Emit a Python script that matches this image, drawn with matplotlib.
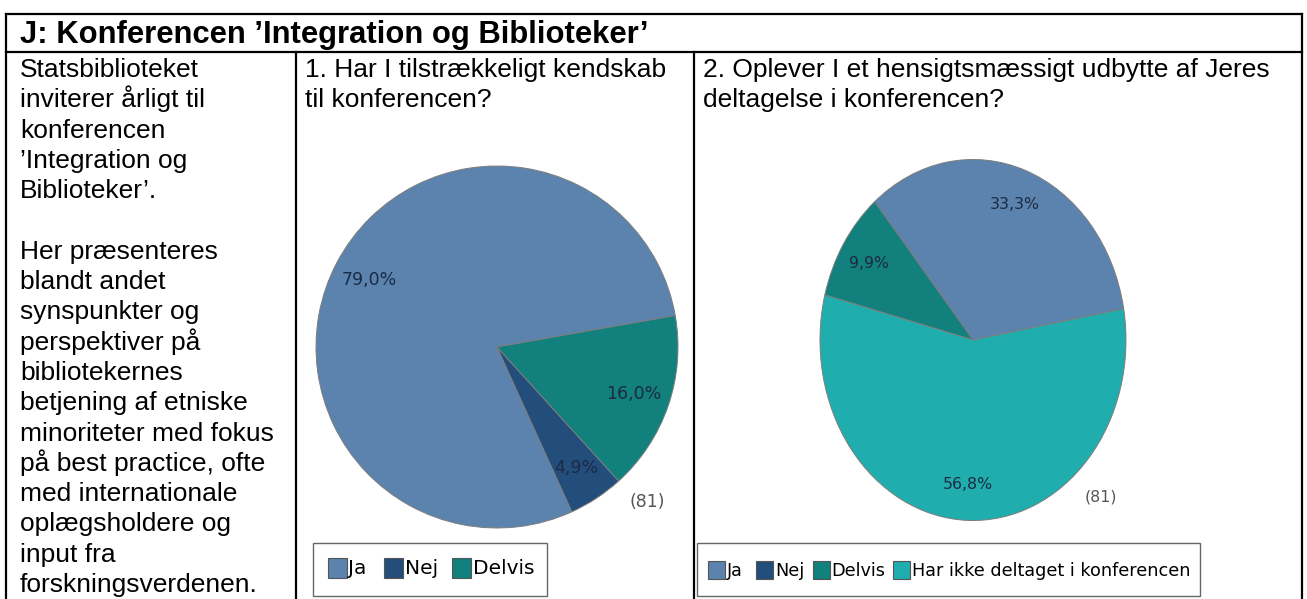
import matplotlib
matplotlib.use("Agg")
import matplotlib.pyplot as plt
from matplotlib.patches import Rectangle

# ---------------- data ----------------
title = "J: Konferencen \u2019Integration og Biblioteker\u2019"
intro_lines = ["Statsbiblioteket", "inviterer årligt til", "konferencen",
               "\u2019Integration og", "Biblioteker\u2019.", "",
               "Her præsenteres", "blandt andet", "synspunkter og",
               "perspektiver på", "bibliotekernes", "betjening af etniske",
               "minoriteter med fokus", "på best practice, ofte",
               "med internationale", "oplægsholdere og", "input fra",
               "forskningsverdenen."]
q1_lines = ["1. Har I tilstrækkeligt kendskab", "til konferencen?"]
q2_lines = ["2. Oplever I et hensigtsmæssigt udbytte af Jeres",
            "deltagelse i konferencen?"]

cats1 = ["Ja", "Nej", "Delvis"]
counts1 = [64, 4, 13]          # n = 81 -> 79,0% / 4,9% / 16,0%
cats2 = ["Ja", "Nej", "Delvis", "Har ikke deltaget i konferencen"]
counts2 = [27, 0, 8, 46]       # n = 81 -> 33,3% / 0% / 9,9% / 56,8%
n1 = 81
n2 = 81

colors = {"Ja": "#5b83ad", "Nej": "#234d7b", "Delvis": "#12807c",
          "Har ikke deltaget i konferencen": "#20adad"}

# ---------------- figure ----------------
W, H = 1307, 599
fig = plt.figure(figsize=(W / 100, H / 100), dpi=100)
fig.patch.set_facecolor("white")

ov = fig.add_axes([0, 0, 1, 1])
ov.set_xlim(0, W)
ov.set_ylim(H, 0)
ov.axis("off")

def px_axes(x0, y0, x1, y1):
    return fig.add_axes([x0 / W, 1 - y1 / H, (x1 - x0) / W, (y1 - y0) / H])

# table borders
lw = 1.6
for (xa, ya, xb, yb) in [(6, 14, 1302, 14), (6, 52, 1302, 52),
                         (6, 14, 6, 599), (1302, 14, 1302, 599),
                         (296, 52, 296, 599), (694, 52, 694, 599)]:
    ov.plot([xa, xb], [ya, yb], color="black", lw=lw, solid_capstyle="projecting")

body_font = "Liberation Sans"
ov.text(20, 43, title, fontsize=22.3, fontweight="bold", family=body_font,
        va="baseline", ha="left")

lh = 30.3
y_first = 77
for i, line in enumerate(intro_lines):
    ov.text(20, y_first + i * lh, line, fontsize=19, family=body_font,
            va="baseline", ha="left")
for i, line in enumerate(q1_lines):
    ov.text(305, y_first + i * lh, line, fontsize=19, family=body_font,
            va="baseline", ha="left")
for i, line in enumerate(q2_lines):
    ov.text(703, y_first + i * lh, line, fontsize=19, family=body_font,
            va="baseline", ha="left")

def pct_fmt(p):
    if p < 0.05:
        return ""
    return f"{p:.1f}".replace(".", ",") + "%"

def draw_pie(box, cats, counts, fs, n, npos):
    ax = px_axes(*box)
    wedges, texts, autotexts = ax.pie(
        counts, colors=[colors[c] for c in cats], startangle=10,
        counterclock=True, autopct=pct_fmt, pctdistance=0.8,
        wedgeprops=dict(edgecolor="#7d7d7d", linewidth=0.7),
        textprops=dict(fontsize=fs, color="#1c2a45", family="DejaVu Sans"))
    ax.set_aspect("auto")
    ax.set_xlim(-1, 1)
    ax.set_ylim(-1, 1)
    ax.axis("off")
    ov.text(npos[0], npos[1], f"({n})", fontsize=fs, color="#555555",
            family="DejaVu Sans", ha="center", va="center")
    return wedges

draw_pie((316, 166, 678, 528), cats1, counts1, 12.5, n1, (647, 502))
draw_pie((820, 159.5, 1126, 520.5), cats2, counts2, 11.3, n2, (1101, 497))

# legends (drawn manually to match layout)
def draw_legend(box, cats, patch_x, text_x, pw, ph, pyc, fs):
    x0, y0, x1, y1 = box
    ov.add_patch(Rectangle((x0, y0), x1 - x0, y1 - y0, fill=False,
                           edgecolor="#666666", lw=1.0))
    for c, px, tx in zip(cats, patch_x, text_x):
        ov.add_patch(Rectangle((px, pyc - ph / 2), pw, ph, facecolor=colors[c],
                               edgecolor="#555555", lw=0.8))
        ov.text(tx, pyc + 1, c, fontsize=fs, family="DejaVu Sans",
                color="black", ha="left", va="center")

draw_legend((313, 543, 547, 596), cats1, [328, 384, 452], [348, 405, 473],
            19, 20, 568, 14.5)
draw_legend((697, 543, 1200, 596), cats2, [708, 756, 813, 893],
            [727, 775, 831, 912], 17, 18, 570, 12.7)

fig.savefig("out.png", dpi=100, facecolor="white")
